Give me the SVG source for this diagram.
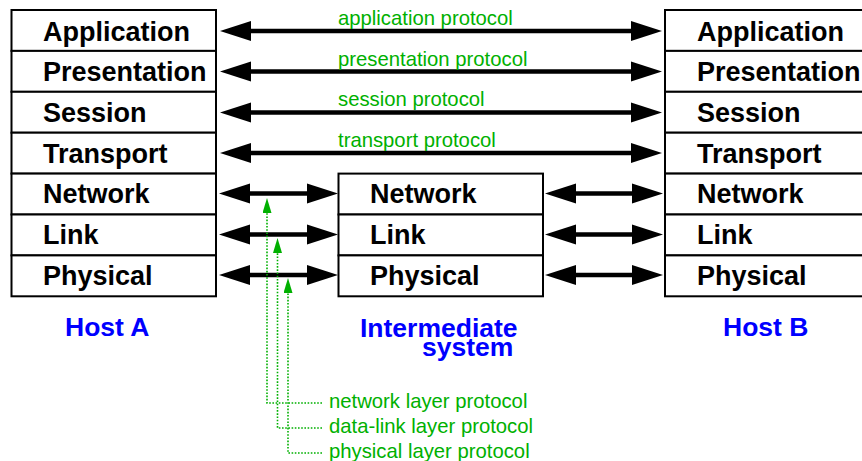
<svg xmlns="http://www.w3.org/2000/svg" width="862" height="461" viewBox="0 0 862 461">
<style>
.box{fill:#fff;stroke:#000;stroke-width:2}
.lbl{font-family:"Liberation Sans",Arial,sans-serif;font-weight:bold;font-size:27px;fill:#000}
.host{font-family:"Liberation Sans",Arial,sans-serif;font-weight:bold;font-size:26.5px;fill:#0000ff}
.proto{font-family:"Liberation Sans",Arial,sans-serif;font-size:20.3px;fill:#00b000}
.arr{stroke:#000;stroke-width:4.5;fill:none;marker-start:url(#ah);marker-end:url(#ah)}
.dot{stroke:#00b000;stroke-width:1.6;fill:none;stroke-dasharray:1.6 1.6;marker-end:url(#gh)}
</style>
<defs>
<marker id="ah" markerUnits="userSpaceOnUse" markerWidth="31" markerHeight="21" refX="6" refY="10.5" orient="auto-start-reverse" viewBox="0 0 31 21">
<path d="M0,0.5 L31,10.5 L0,20.5 z" fill="#000"/>
</marker>
<marker id="gh" markerUnits="userSpaceOnUse" markerWidth="15" markerHeight="9" refX="0" refY="4.5" orient="auto" viewBox="0 0 15 9">
<path d="M0,0 L15,4.5 L0,9 z" fill="#00b000"/>
</marker>
</defs>

<g id="hostA">
<rect class="box" x="11.5" y="10" width="204.5" height="40.9"/>
<rect class="box" x="11.5" y="50.9" width="204.5" height="40.9"/>
<rect class="box" x="11.5" y="91.8" width="204.5" height="40.9"/>
<rect class="box" x="11.5" y="132.7" width="204.5" height="40.9"/>
<rect class="box" x="11.5" y="173.6" width="204.5" height="40.9"/>
<rect class="box" x="11.5" y="214.5" width="204.5" height="40.9"/>
<rect class="box" x="11.5" y="255.4" width="204.5" height="40.9"/>
<text class="lbl" x="43" y="40.7">Application</text>
<text class="lbl" x="43" y="81.3">Presentation</text>
<text class="lbl" x="43" y="122">Session</text>
<text class="lbl" x="43" y="162.6">Transport</text>
<text class="lbl" x="43" y="203.3">Network</text>
<text class="lbl" x="43" y="244.2">Link</text>
<text class="lbl" x="43" y="285.1">Physical</text>
<text class="host" x="65" y="336">Host A</text>
</g>

<g id="intermediate">
<rect class="box" x="338.5" y="173.6" width="204.5" height="40.9"/>
<rect class="box" x="338.5" y="214.5" width="204.5" height="40.9"/>
<rect class="box" x="338.5" y="255.4" width="204.5" height="40.9"/>
<text class="lbl" x="370" y="203.3">Network</text>
<text class="lbl" x="370" y="244.2">Link</text>
<text class="lbl" x="370" y="285.1">Physical</text>
<text class="host" x="360" y="336.5">Intermediate</text>
<text class="host" x="422" y="355.5">system</text>
</g>

<g id="hostB">
<rect class="box" x="665" y="10" width="210" height="40.9"/>
<rect class="box" x="665" y="50.9" width="210" height="40.9"/>
<rect class="box" x="665" y="91.8" width="210" height="40.9"/>
<rect class="box" x="665" y="132.7" width="210" height="40.9"/>
<rect class="box" x="665" y="173.6" width="210" height="40.9"/>
<rect class="box" x="665" y="214.5" width="210" height="40.9"/>
<rect class="box" x="665" y="255.4" width="210" height="40.9"/>
<text class="lbl" x="697" y="40.7">Application</text>
<text class="lbl" x="697" y="81.3">Presentation</text>
<text class="lbl" x="697" y="122">Session</text>
<text class="lbl" x="697" y="162.6">Transport</text>
<text class="lbl" x="697" y="203.3">Network</text>
<text class="lbl" x="697" y="244.2">Link</text>
<text class="lbl" x="697" y="285.1">Physical</text>
<text class="host" x="723" y="336">Host B</text>
</g>

<g id="connectors">
<path class="arr" d="M245,31 H637"/>
<path class="arr" d="M245,71.5 H637"/>
<path class="arr" d="M245,112.5 H637"/>
<path class="arr" d="M245,153 H637"/>
<path class="arr" d="M244,193.5 H313"/>
<path class="arr" d="M244,234.5 H313"/>
<path class="arr" d="M244,275 H313"/>
<path class="arr" d="M570,193.5 H638"/>
<path class="arr" d="M570,234.5 H638"/>
<path class="arr" d="M570,275 H638"/>
<path class="dot" d="M322,403 H267 V213"/>
<path class="dot" d="M322,428 H277.5 V253"/>
<path class="dot" d="M322,453 H288 V293"/>
</g>

<g id="labels">
<text class="proto" x="338" y="25">application protocol</text>
<text class="proto" x="338" y="65.5">presentation protocol</text>
<text class="proto" x="338" y="106">session protocol</text>
<text class="proto" x="338" y="147">transport protocol</text>
<text class="proto" x="329" y="408">network layer protocol</text>
<text class="proto" x="329" y="433">data-link layer protocol</text>
<text class="proto" x="329" y="458">physical layer protocol</text>
</g>
</svg>
